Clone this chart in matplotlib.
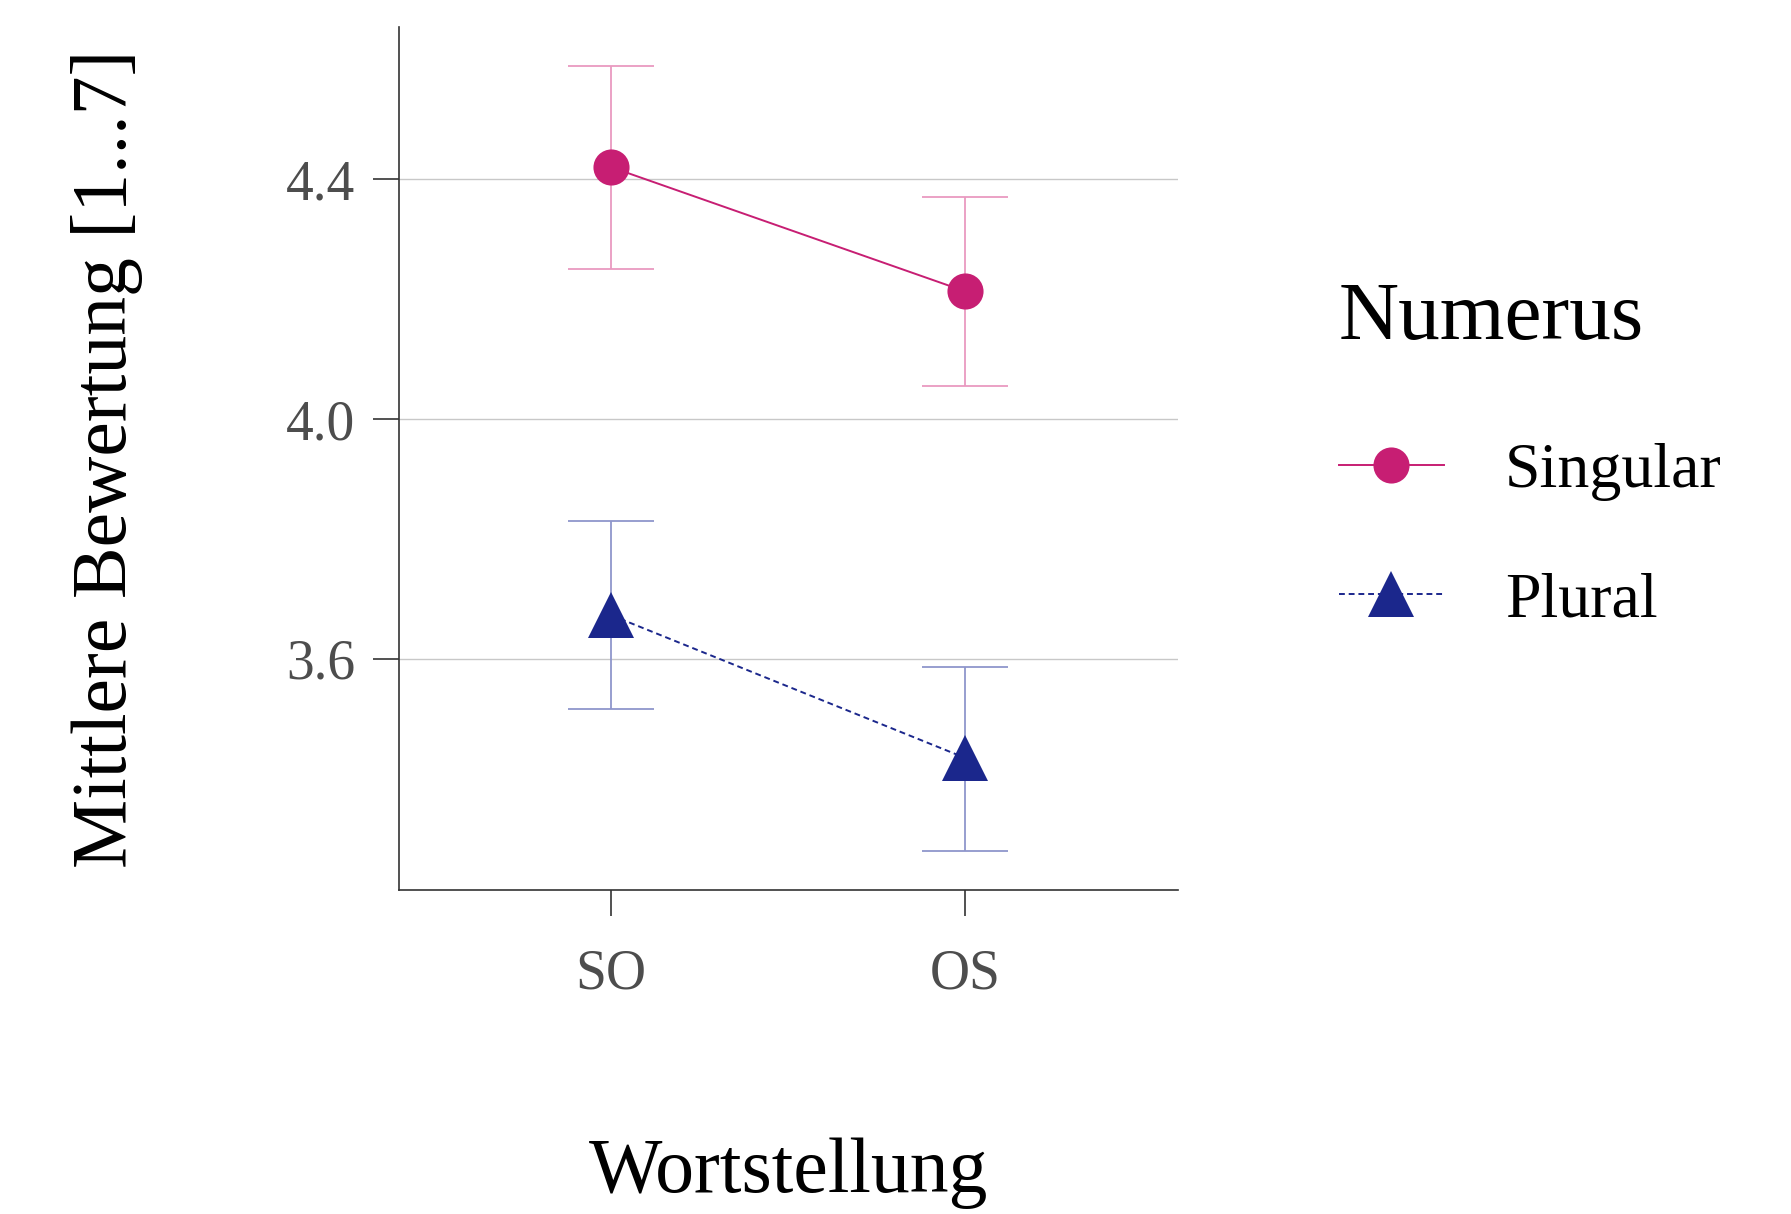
import numpy as np
import matplotlib.pyplot as plt
from matplotlib.lines import Line2D

# data
orders = ["SO", "OS"]
groups = ["Singular", "Plural"]
means = {"Singular": [4.420, 4.213], "Plural": [3.673, 3.435]}
lower = {"Singular": [4.251, 4.055], "Plural": [3.516, 3.280]}
upper = {"Singular": [4.589, 4.371], "Plural": [3.830, 3.587]}
yticks = [3.6, 4.0, 4.4]

colors = {"Singular": "#C71E73", "Plural": "#1B278C"}
ebar_colors = {"Singular": "#E99AC0", "Plural": "#8F96CC"}
markers = {"Singular": "o", "Plural": "^"}
msizes = {"Singular": 26, "Plural": 33}
styles = {"Singular": "-", "Plural": (0, (3, 2))}

plt.rcParams['font.family'] = ['Liberation Serif', 'DejaVu Serif']

fig = plt.figure(figsize=(17.91, 12.14), dpi=100)
ax = fig.add_axes([0.2226, 0.267, 0.6575 - 0.2226, 0.9774 - 0.267])

x = np.arange(1, len(orders) + 1)
handles = []
for g in groups:
    m = np.array(means[g])
    lo = m - np.array(lower[g])
    hi = np.array(upper[g]) - m
    ax.errorbar(x, m, yerr=[lo, hi], fmt="none", ecolor=ebar_colors[g],
                elinewidth=1.3, capsize=31, capthick=1.3, zorder=2)
    ax.plot(x, m, linestyle=styles[g], color=colors[g], linewidth=1.4, zorder=3)
    ax.plot(x, m, linestyle="none", marker=markers[g], markersize=msizes[g],
            color=colors[g], markeredgewidth=0, zorder=4)
    handles.append(Line2D([], [], linestyle=styles[g], color=colors[g], linewidth=1.4,
                          marker=markers[g], markersize=msizes[g], markeredgewidth=0))

ax.set_xlim(0.4, 2.6)
ax.set_ylim(3.215, 4.653)
ax.set_xticks(x)
ax.set_xticklabels(orders)
ax.set_yticks(yticks)
ax.set_yticklabels([f"{t:.1f}" for t in yticks])
ax.yaxis.grid(True, color="#C8C8C8", linewidth=1.0)
ax.set_axisbelow(True)

for s in ["top", "right"]:
    ax.spines[s].set_visible(False)
for s in ["left", "bottom"]:
    ax.spines[s].set_color("#333333")
    ax.spines[s].set_linewidth(1.2)

ax.tick_params(axis="both", length=19, width=1.2, color="#333333",
               labelcolor="#4D4D4D", labelsize=40, pad=12)
ax.tick_params(axis="x", pad=23)

ax.set_ylabel("Mittlere Bewertung [1...7]", fontsize=56)
ax.yaxis.set_label_coords(-0.328, 0.5)
ax.set_xlabel("Wortstellung", fontsize=56)
ax.xaxis.set_label_coords(0.5, -0.287)

leg = fig.legend(handles, groups, title="Numerus", loc="upper left",
                 bbox_to_anchor=(0.7475, 0.768), frameon=False, fontsize=46,
                 title_fontsize=60, handlelength=1.65, handletextpad=0.95,
                 labelspacing=1.1, borderpad=0, borderaxespad=0)
leg._legend_box.align = "left"
leg._legend_box.sep = 46 * 1.1 + 11

fig.savefig("out.png", dpi=100)
